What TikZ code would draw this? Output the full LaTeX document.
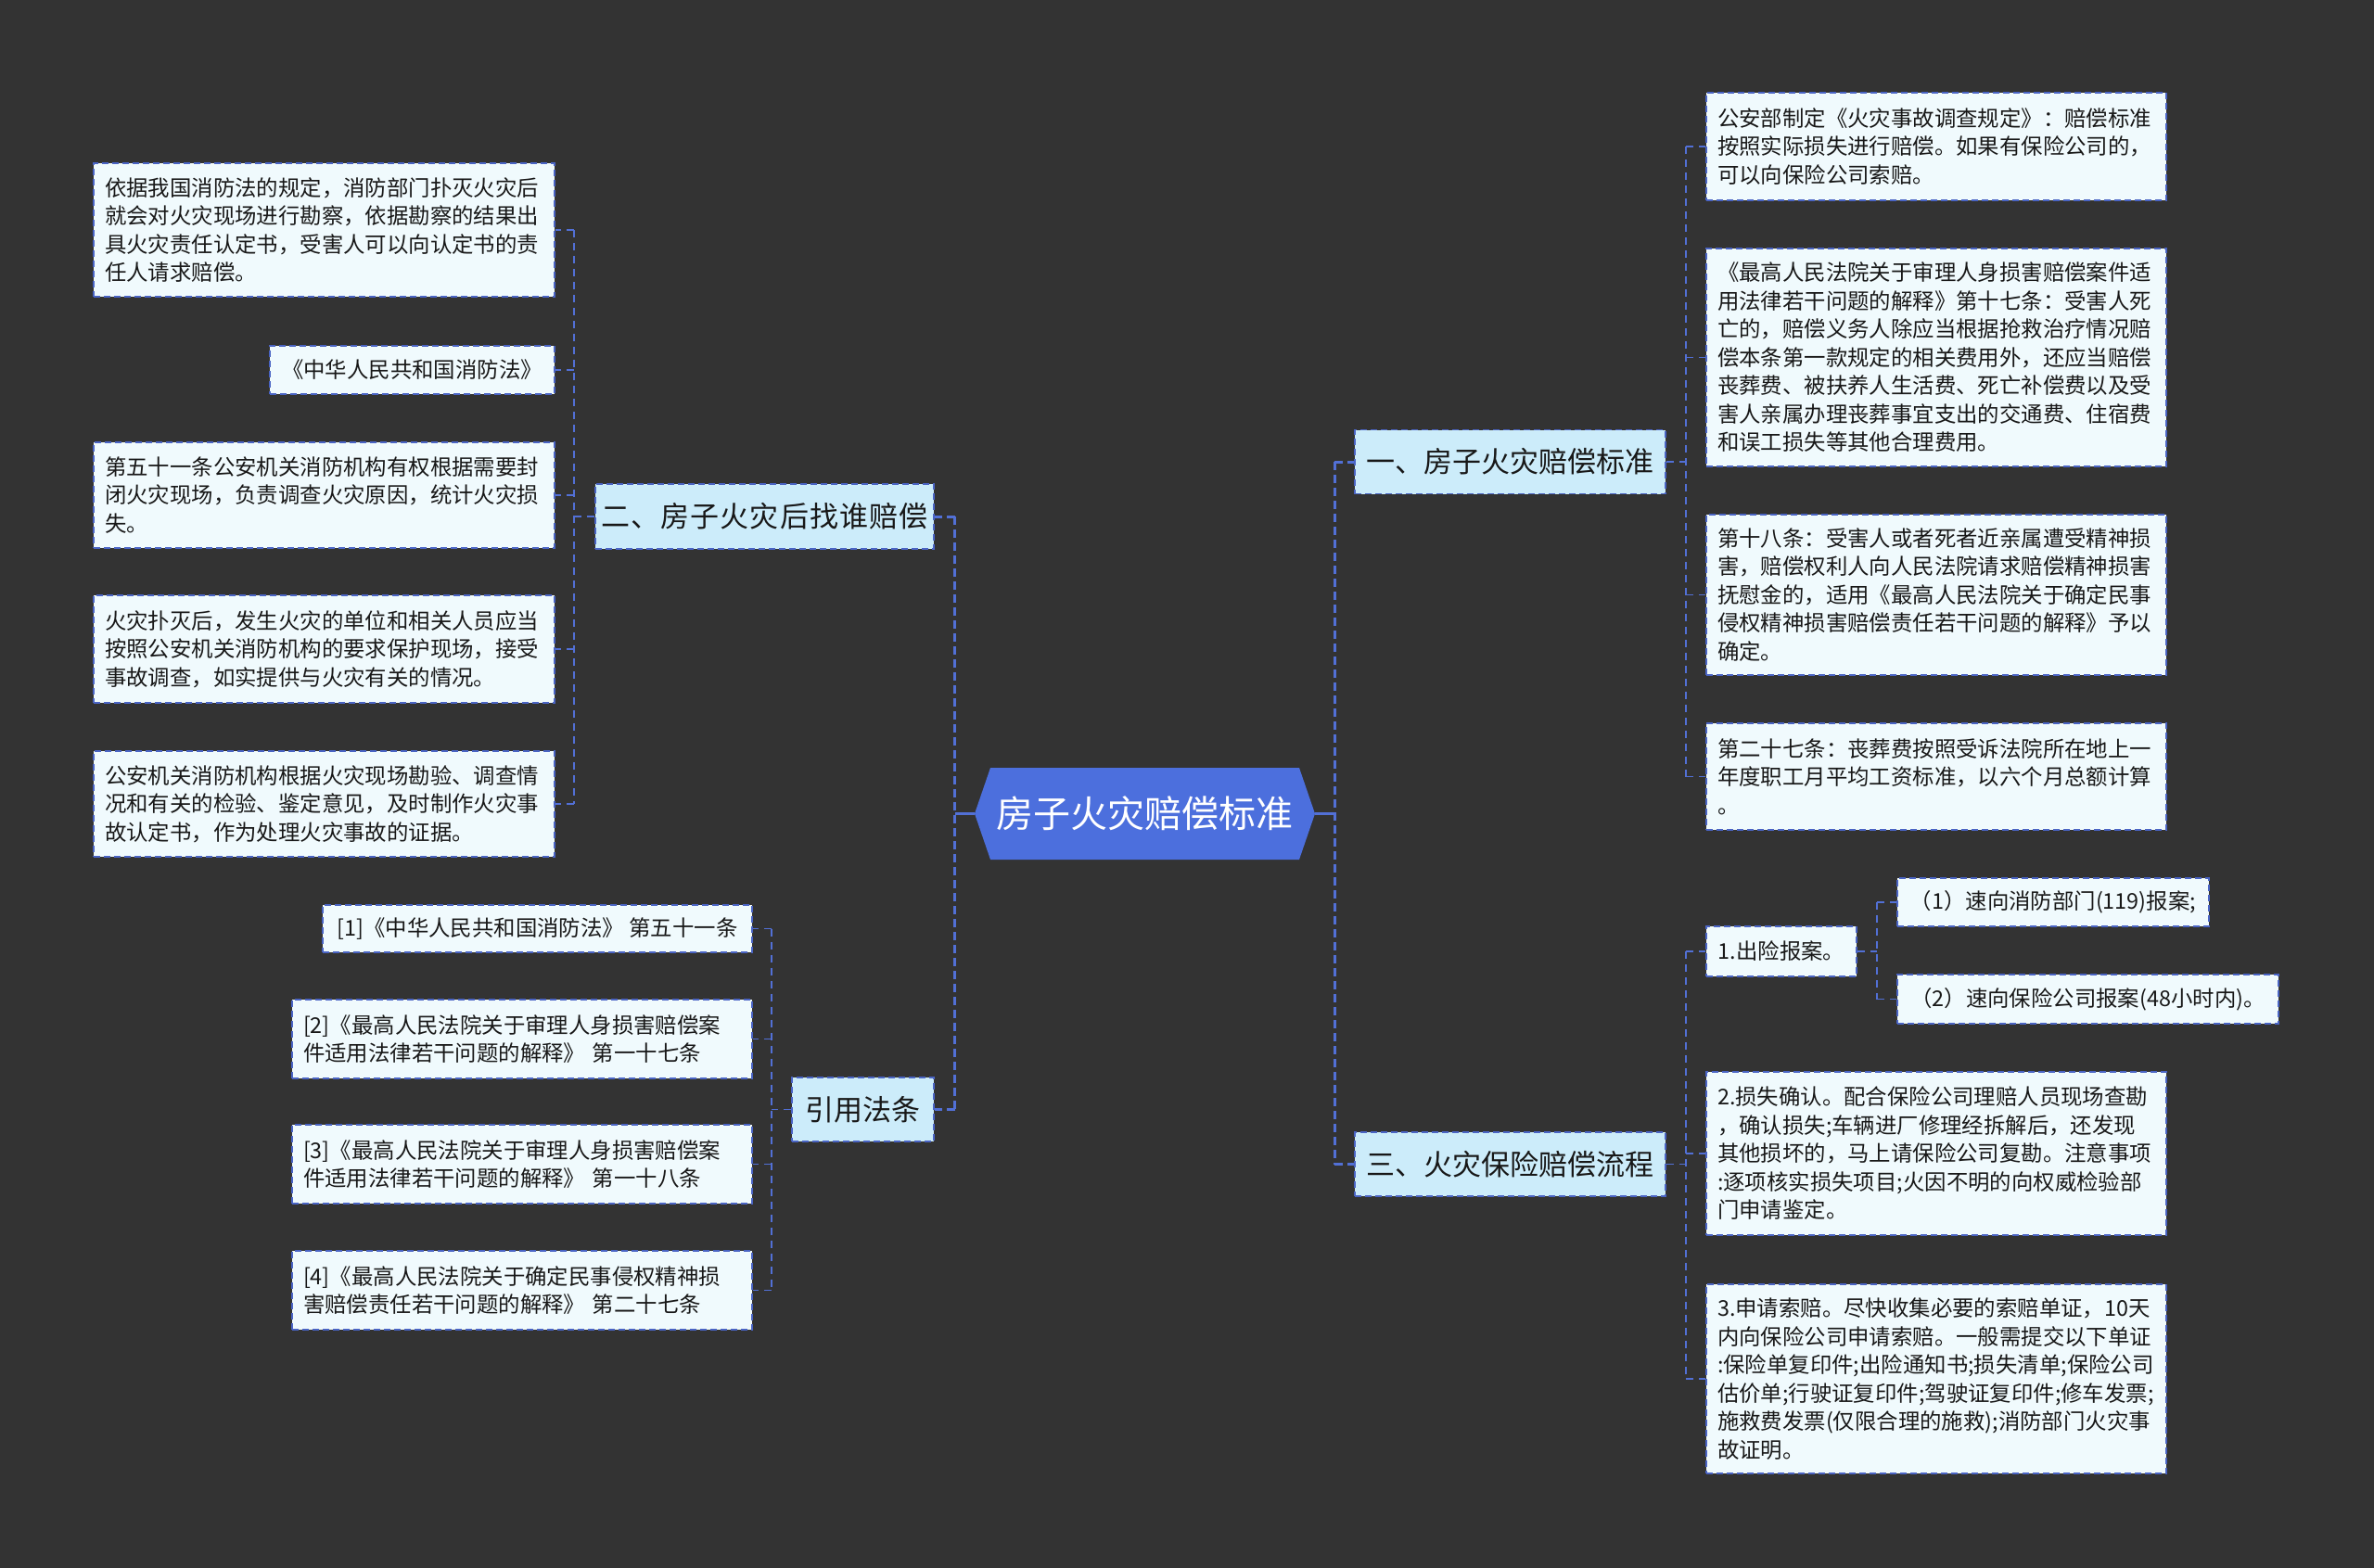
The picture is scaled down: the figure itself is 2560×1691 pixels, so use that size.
\documentclass[tikz,border=0pt]{standalone}
\usepackage{fontspec}
\setmainfont{Noto Sans CJK SC}
\usetikzlibrary{calc}
\definecolor{bgc}{RGB}{51,51,51}
\definecolor{rootc}{RGB}{76,111,221}
\definecolor{linec}{RGB}{82,112,214}
\definecolor{borderc}{RGB}{74,100,196}
\definecolor{lvone}{RGB}{204,236,250}
\definecolor{leaff}{RGB}{240,250,253}
\definecolor{txt}{RGB}{24,24,24}
\begin{document}
\begin{tikzpicture}[x=1pt,y=-1pt,
  lvbox/.style={draw=borderc, line width=1.8pt, dash pattern=on 7pt off 4pt, fill=lvone, text=txt, font=\fontsize{31}{36}\selectfont, inner sep=0pt},
  leafbox/.style={draw=borderc, line width=1.6pt, dash pattern=on 7pt off 4pt, fill=leaff, text=txt, font=\fontsize{23.4}{30.5}\selectfont, align=left, inner xsep=12pt, inner ysep=0pt},
  conn/.style={draw=linec, line width=1.8pt, dash pattern=on 8pt off 6pt},
  rootstub/.style={draw=linec, line width=2.5pt},
  rootconn/.style={draw=linec, line width=3pt, dash pattern=on 9pt off 5pt},
]
\useasboundingbox (0,0) rectangle (2560,1691);
\fill[bgc] (0,0) rectangle (2560,1691);

% root
\fill[rootc] (1051,877.5) -- (1068,828) -- (1401,828) -- (1418,877.5) -- (1401,927) -- (1068,927) -- cycle;
\node[font=\fontsize{40}{48}\selectfont, text=white, minimum width=367pt, minimum height=99pt, inner sep=0pt] (root) at (1234.5,877.5) {房子火灾赔偿标准};

% level one
\node[lvbox, minimum width=365pt, minimum height=70pt] (n2) at (824.5,557) {\addfontfeature{LetterSpace=3.5}二、房子火灾后找谁赔偿};
\node[lvbox, minimum width=153pt, minimum height=69pt] (cite) at (930.5,1196.5) {引用法条};
\node[lvbox, minimum width=335pt, minimum height=69pt] (n1) at (1628.5,498) {一、房子火灾赔偿标准};
\node[lvbox, minimum width=335pt, minimum height=69pt] (n3) at (1628.5,1255.5) {三、火灾保险赔偿流程};

% left leaves
\node[leafbox, minimum width=497pt, minimum height=144pt, text width=473pt] (L1) at (349.5,248) {依据我国消防法的规定，消防部门扑灭火灾后\\就会对火灾现场进行勘察，依据勘察的结果出\\具火灾责任认定书，受害人可以向认定书的责\\任人请求赔偿。};
\node[leafbox, minimum width=307pt, minimum height=52pt] (L2) at (444.5,399) {《中华人民共和国消防法》};
\node[leafbox, minimum width=497pt, minimum height=114pt, text width=473pt] (L3) at (349.5,534) {第五十一条公安机关消防机构有权根据需要封\\闭火灾现场，负责调查火灾原因，统计火灾损\\失。};
\node[leafbox, minimum width=497pt, minimum height=116pt, text width=473pt] (L4) at (349.5,700) {火灾扑灭后，发生火灾的单位和相关人员应当\\按照公安机关消防机构的要求保护现场，接受\\事故调查，如实提供与火灾有关的情况。};
\node[leafbox, minimum width=497pt, minimum height=114pt, text width=473pt] (L5) at (349.5,867) {公安机关消防机构根据火灾现场勘验、调查情\\况和有关的检验、鉴定意见，及时制作火灾事\\故认定书，作为处理火灾事故的证据。};

% citations
\node[leafbox, minimum width=463pt, minimum height=51pt] (C1) at (579.5,1001.5) {[1]《中华人民共和国消防法》 第五十一条};
\node[leafbox, minimum width=496pt, minimum height=85pt, text width=472pt] (C2) at (563,1120.5) {[2]《最高人民法院关于审理人身损害赔偿案\\件适用法律若干问题的解释》 第一十七条};
\node[leafbox, minimum width=496pt, minimum height=85pt, text width=472pt] (C3) at (563,1255.5) {[3]《最高人民法院关于审理人身损害赔偿案\\件适用法律若干问题的解释》 第一十八条};
\node[leafbox, minimum width=496pt, minimum height=85pt, text width=472pt] (C4) at (563,1391.5) {[4]《最高人民法院关于确定民事侵权精神损\\害赔偿责任若干问题的解释》 第二十七条};

% right leaves of n1
\node[leafbox, minimum width=496pt, minimum height=116pt, text width=472pt] (R1) at (2088,158) {公安部制定《火灾事故调查规定》：赔偿标准\\按照实际损失进行赔偿。如果有保险公司的，\\可以向保险公司索赔。};
\node[leafbox, minimum width=496pt, minimum height=235pt, text width=472pt] (R2) at (2088,385.5) {《最高人民法院关于审理人身损害赔偿案件适\\用法律若干问题的解释》第十七条：受害人死\\亡的，赔偿义务人除应当根据抢救治疗情况赔\\偿本条第一款规定的相关费用外，还应当赔偿\\丧葬费、被扶养人生活费、死亡补偿费以及受\\害人亲属办理丧葬事宜支出的交通费、住宿费\\和误工损失等其他合理费用。};
\node[leafbox, minimum width=496pt, minimum height=173pt, text width=472pt] (R3) at (2088,641.5) {第十八条：受害人或者死者近亲属遭受精神损\\害，赔偿权利人向人民法院请求赔偿精神损害\\抚慰金的，适用《最高人民法院关于确定民事\\侵权精神损害赔偿责任若干问题的解释》予以\\确定。};
\node[leafbox, minimum width=496pt, minimum height=115pt, text width=472pt] (R4) at (2088,837.5) {第二十七条：丧葬费按照受诉法院所在地上一\\年度职工月平均工资标准，以六个月总额计算\\。};

% right leaves of n3
\node[leafbox, minimum width=162pt, minimum height=54pt] (S1) at (1921,1026) {1.出险报案。};
\node[leafbox, minimum width=336pt, minimum height=52pt] (S1a) at (2214,973) {（1）速向消防部门(119)报案;};
\node[leafbox, minimum width=411pt, minimum height=53pt] (S1b) at (2251.5,1077.5) {（2）速向保险公司报案(48小时内)。};
\node[leafbox, minimum width=496pt, minimum height=176pt, text width=472pt] (S2) at (2088,1244) {2.损失确认。配合保险公司理赔人员现场查勘\\，确认损失;车辆进厂修理经拆解后，还发现\\其他损坏的，马上请保险公司复勘。注意事项\\:逐项核实损失项目;火因不明的向权威检验部\\门申请鉴定。};
\node[leafbox, minimum width=496pt, minimum height=204pt, text width=472pt] (S3) at (2088,1487) {3.申请索赔。尽快收集必要的索赔单证，10天\\内向保险公司申请索赔。一般需提交以下单证\\:保险单复印件;出险通知书;损失清单;保险公司\\估价单;行驶证复印件;驾驶证复印件;修车发票;\\施救费发票(仅限合理的施救);消防部门火灾事\\故证明。};

% root connectors
\draw[rootstub] (root.west) -- ++(-21,0) coordinate (rl);
\draw[rootconn] (rl |- n2.east) -- (rl |- cite.east);
\draw[rootconn] (rl |- n2.east) -- (n2.east);
\draw[rootconn] (rl |- cite.east) -- (cite.east);
\draw[rootstub] (root.east) -- ++(21,0) coordinate (rr);
\draw[rootconn] (rr |- n1.west) -- (rr |- n3.west);
\draw[rootconn] (rr |- n1.west) -- (n1.west);
\draw[rootconn] (rr |- n3.west) -- (n3.west);

% n2 children
\draw[conn] (n2.west) -- ++(-22,0) coordinate (s2);
\draw[conn] (s2 |- L1.east) -- (s2 |- L5.east);
\foreach \n in {L1,L2,L3,L4,L5} \draw[conn] (s2 |- \n.east) -- (\n.east);

% cite children
\draw[conn] (cite.west) -- ++(-21,0) coordinate (sc);
\draw[conn] (sc |- C1.east) -- (sc |- C4.east);
\foreach \n in {C1,C2,C3,C4} \draw[conn] (sc |- \n.east) -- (\n.east);

% n1 children
\draw[conn] (n1.east) -- ++(21,0) coordinate (s1);
\draw[conn] (s1 |- R1.west) -- (s1 |- R4.west);
\foreach \n in {R1,R2,R3,R4} \draw[conn] (s1 |- \n.west) -- (\n.west);

% n3 children
\draw[conn] (n3.east) -- ++(21,0) coordinate (s3);
\draw[conn] (s3 |- S1.west) -- (s3 |- S3.west);
\foreach \n in {S1,S2,S3} \draw[conn] (s3 |- \n.west) -- (\n.west);

% S1 children
\draw[conn] (S1.east) -- ++(21,0) coordinate (ss);
\draw[conn] (ss |- S1a.west) -- (ss |- S1b.west);
\foreach \n in {S1a,S1b} \draw[conn] (ss |- \n.west) -- (\n.west);
\end{tikzpicture}
\end{document}
